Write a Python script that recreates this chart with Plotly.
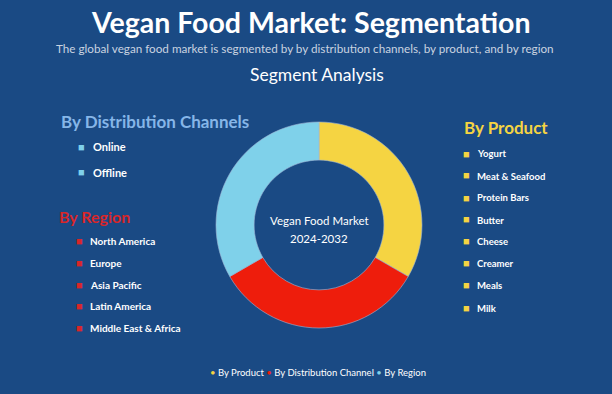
import plotly.graph_objects as go

W, H = 612, 394
BG = "#1a4a84"

segments = ["By Product", "By Distribution Channel", "By Region"]
shares = [1, 1, 1]
seg_colors = ["#f5d442", "#ee1d0c", "#7fd1ea"]

dist_channels = ["Online", "Offline"]
regions = ["North America", "Europe", "Asia Pacific", "Latin America", "Middle East & Africa"]
products = ["Yogurt", "Meat & Seafood", "Protein Bars", "Butter", "Cheese", "Creamer", "Meals", "Milk"]

fig = go.Figure()
fig.add_trace(go.Pie(
    labels=segments, values=shares, hole=0.63, sort=False, direction="clockwise",
    rotation=0, marker=dict(colors=seg_colors, line=dict(color="#9fb7d6", width=0.6)),
    textinfo="none", hoverinfo="label+percent", showlegend=False,
    domain=dict(x=[216 / W, 422 / W], y=[1 - 328 / H, 1 - 122 / H]),
))

FONT = "Lato"

def px(x):
    return x / W

def py(y):
    return 1 - y / H

ann = []

def txt(x, y, text, size, color, bold=False, anchor="left", family=FONT):
    ann.append(dict(x=px(x), y=py(y), xref="paper", yref="paper", text=f"<b>{text}</b>" if bold else text,
                    showarrow=False, xanchor=anchor, yanchor="middle",
                    font=dict(size=size, color=color, family=family)))

txt(311, 22, "Vegan Food Market: Segmentation", 28.5, "white", True, "center")
txt(305, 48, "The global vegan food market is segmented by by distribution channels, by product, and by region", 11.7, "#c9d3e0", False, "center")
txt(317, 74, "Segment Analysis", 17.5, "white", False, "center")

txt(319, 220, "Vegan Food Market", 11.5, "white", False, "center")
txt(319, 238, "2024-2032", 11.5, "white", False, "center")

# Distribution channels
txt(59, 122, "By Distribution Channels", 17, "#86b6e8", True)
dist_y = [147, 172]
for name, y in zip(dist_channels, dist_y):
    txt(76, y - 1, "■", 11, "#7fd1ea")
    txt(91, y, name, 11, "white", True)

# Region
txt(57, 216, "By Region", 16, "#d8262a", True)
reg_y = [241, 263, 285, 306, 328]
for name, y in zip(regions, reg_y):
    txt(74, y - 1, "■", 11, "#d8262a")
    txt(88, y, name, 10, "white", True)

# Product
txt(462, 127, "By Product", 17, "#f5d442", True)
prod_y = [154, 176, 198, 220, 241, 263, 285, 308]
for name, y in zip(products, prod_y):
    txt(461, y - 1, "■", 11, "#f5d442")
    txt(475, y, name, 9.5, "white", True)

# Bottom legend
leg = " ".join(f"<span style='color:{c}'>•</span> {s}" for s, c in
               zip(segments, ["#f5d442", "#ee1d0c", "#7fd1ea"]))
txt(318, 372, leg, 9.5, "white", False, "center")

fig.update_layout(
    width=W, height=H, paper_bgcolor=BG, plot_bgcolor=BG,
    margin=dict(l=0, r=0, t=0, b=0), annotations=ann,
)

fig.write_html("out.html", config={"displayModeBar": False},
               post_script="document.body.style.margin='0';")
